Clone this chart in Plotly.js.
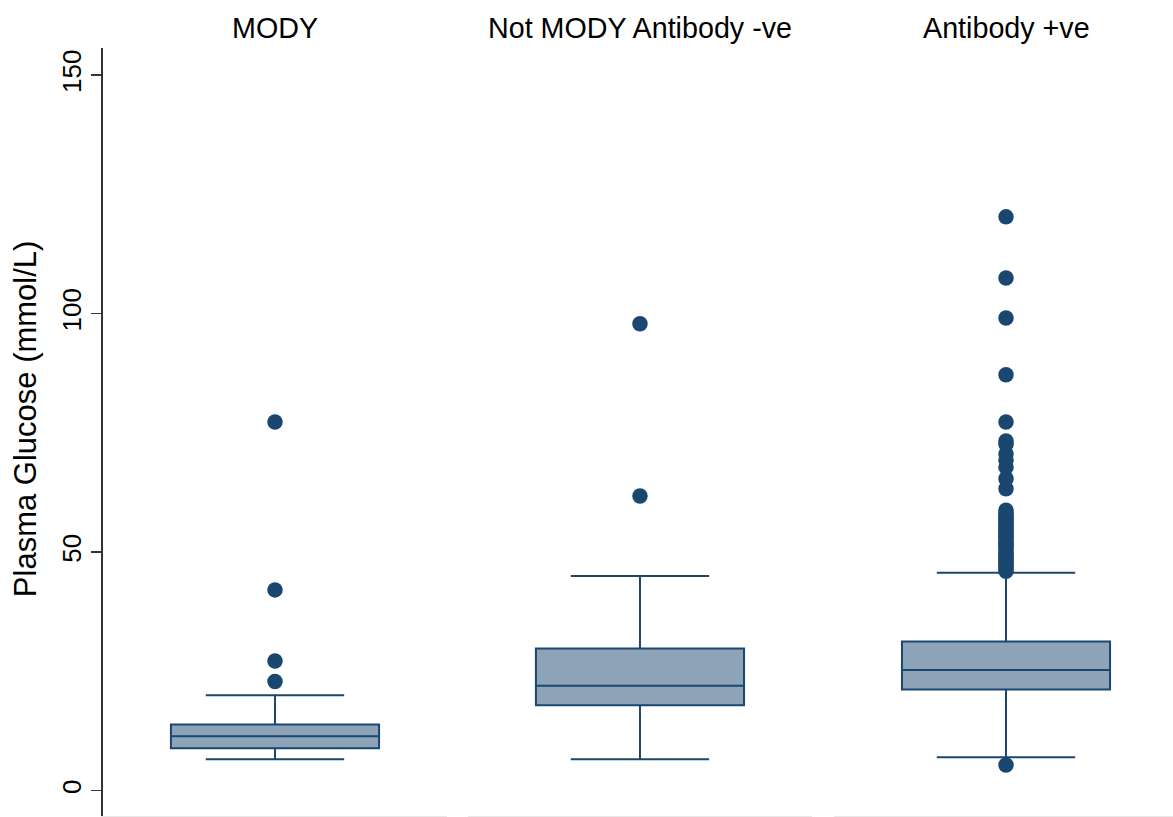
<!DOCTYPE html>
<html>
<head>
<meta charset="utf-8">
<script src="https://cdn.plot.ly/plotly-3.0.1.min.js"></script>
<style>html,body{margin:0;padding:0;background:#fff;}#chart{width:1173px;height:817px;}</style>
</head>
<body>
<div id="chart"></div>
<script>
// Panel (group) names
const groups = ["MODY", "Not MODY Antibody -ve", "Antibody +ve"];

// Box statistics per group (mmol/L)
const lowerWhisker = [6.6, 6.6, 7.0];
const q1Values     = [8.9, 17.9, 21.2];
const medianValues = [11.4, 22.0, 25.3];
const q3Values     = [13.9, 29.8, 31.3];
const upperWhisker = [20.0, 45.0, 45.7];

// Outside values per group
const outliersMODY = [22.9, 27.2, 42.1, 77.3];
const outliersNotMODY = [61.8, 97.9];
const outliersAntibody = [5.4,
  46.0, 46.4, 46.9, 47.3, 47.8, 48.2, 48.7, 49.1, 49.6, 50.0,
  50.5, 51.0, 51.4, 51.9, 52.3, 52.8, 53.2, 53.7, 54.1, 54.6,
  55.0, 55.5, 56.0, 56.4, 56.9, 57.3, 57.8, 58.2, 58.8,
  63.3, 65.4, 67.8, 69.3, 70.6, 72.6, 73.3, 77.3, 87.2, 99.1, 107.5, 120.3];
const outliers = [outliersMODY, outliersNotMODY, outliersAntibody];

// Y axis ticks and title
const yTicks = [0, 50, 100, 150];
const yTickLabels = ["0", "50", "100", "150"];
const yTitle = "Plasma Glucose (mmol/L)";

const navy = "#1a476f";
const boxFill = "#8da3b8";
const axisNames = ["x", "x2", "x3"];

const traces = [];
groups.forEach((g, i) => {
  traces.push({
    type: "box",
    name: g,
    x: [0],
    q1: [q1Values[i]],
    median: [medianValues[i]],
    q3: [q3Values[i]],
    lowerfence: [lowerWhisker[i]],
    upperfence: [upperWhisker[i]],
    width: 0.605,
    whiskerwidth: 0.665,
    boxpoints: false,
    fillcolor: boxFill,
    line: {color: navy, width: 2},
    xaxis: axisNames[i],
    yaxis: "y",
    showlegend: false,
    hoverinfo: "y"
  });
  traces.push({
    type: "scatter",
    mode: "markers",
    name: g + " outside values",
    x: outliers[i].map(() => 0),
    y: outliers[i],
    marker: {color: navy, size: 15.5},
    xaxis: axisNames[i],
    yaxis: "y",
    showlegend: false,
    hoverinfo: "y"
  });
});

const xBase = {
  showline: true, linecolor: "#e8e8e8", linewidth: 1.5,
  showticklabels: false, ticks: "", showgrid: false, zeroline: false,
  anchor: "y", fixedrange: true
};

const annotations = groups.map((g, i) => ({
  text: g, xref: axisNames[i], yref: "paper", x: 0, y: 1.026,
  xanchor: "center", yanchor: "middle", showarrow: false,
  font: {size: 28.7, color: "#000"}
}));
annotations.push({
  text: yTitle, xref: "paper", yref: "paper", x: -0.0729, y: 0.518,
  xanchor: "center", yanchor: "middle", textangle: -90, showarrow: false,
  font: {size: 31, color: "#000"}
});

const layout = {
  width: 1173, height: 817,
  margin: {l: 103, r: 0, t: 48, b: 1, pad: 0},
  paper_bgcolor: "#fff", plot_bgcolor: "#fff",
  font: {family: "Liberation Sans, Arial, Helvetica, sans-serif", color: "#000"},
  showlegend: false,
  xaxis: Object.assign({}, xBase, {domain: [0, 0.3215], range: [-0.5, 0.5]}),
  xaxis2: Object.assign({}, xBase, {domain: [0.3411, 0.6626], range: [-0.5, 0.5]}),
  xaxis3: Object.assign({}, xBase, {domain: [0.6832, 1], range: [-0.5, 0.4855]}),
  yaxis: {
    range: [-5.3, 155.7],
    tickvals: yTicks, ticktext: yTickLabels,
    tickangle: -90,
    ticks: "outside", ticklen: 10, tickwidth: 1.5, tickcolor: "#333",
    tickfont: {size: 26, color: "#000"},
    showline: true, linecolor: "#333", linewidth: 2,
    showgrid: false, zeroline: false, fixedrange: true
  },
  annotations: annotations
};

Plotly.newPlot("chart", traces, layout, {displayModeBar: false, staticPlot: true});
</script>
</body>
</html>
